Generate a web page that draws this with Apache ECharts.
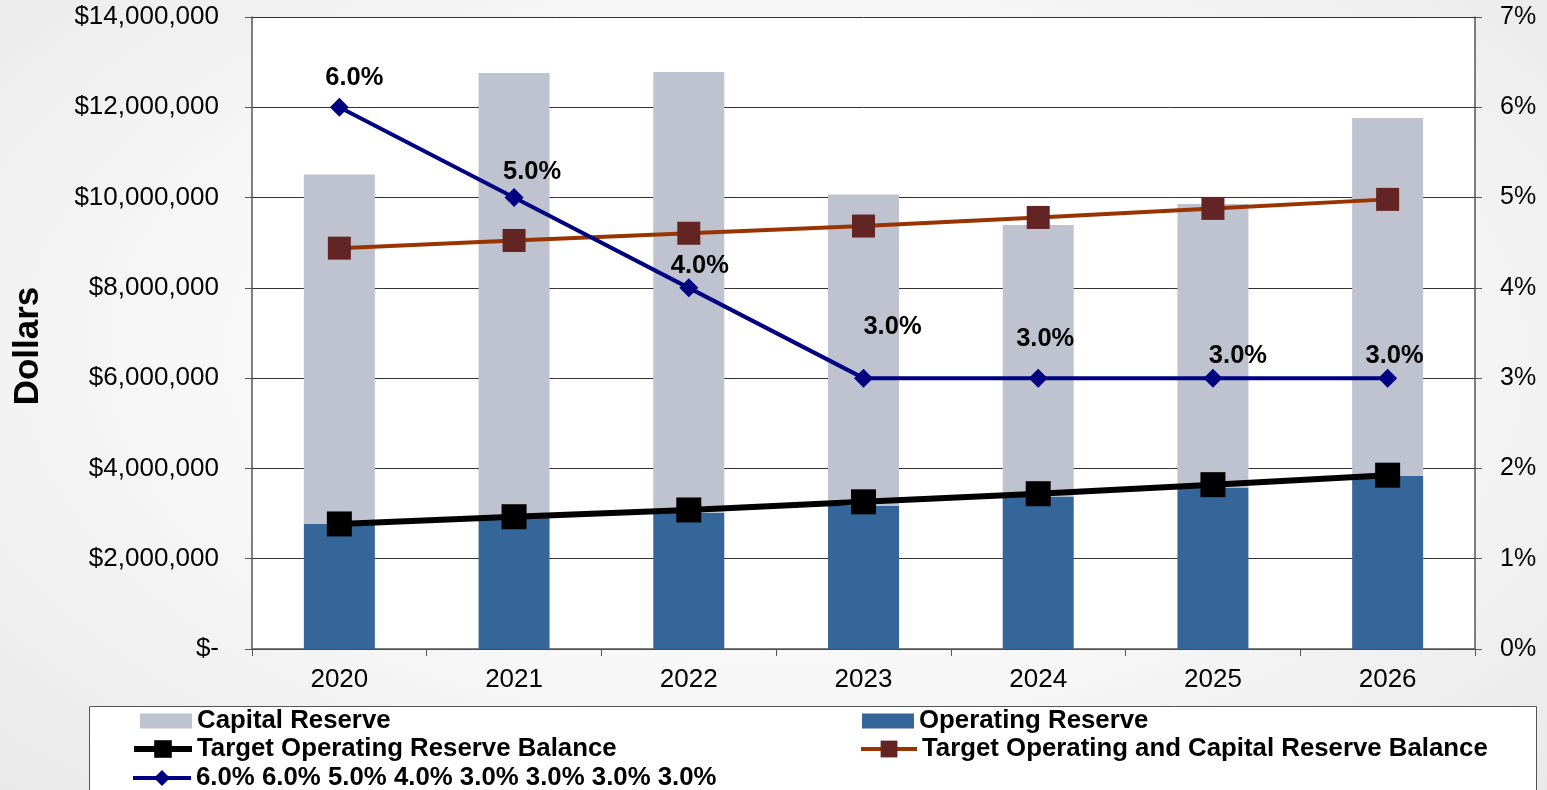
<!DOCTYPE html>
<html>
<head>
<meta charset="utf-8">
<script src="https://cdn.jsdelivr.net/npm/echarts@6/dist/echarts.min.js"></script>
<style>
html,body{margin:0;padding:0;width:1547px;height:790px;overflow:hidden;
background: radial-gradient(ellipse at 50% 45%, #ffffff 0%, #f7f7f7 55%, #e9e9e9 100%);}
#chart{width:1547px;height:790px;}
</style>
</head>
<body>
<div id="chart"></div>
<script>
// ---- data ----
const years = ['2020','2021','2022','2023','2024','2025','2026'];
const operatingReserve = [2770000, 2900000, 3020000, 3170000, 3380000, 3580000, 3830000];
const capitalReserve   = [7740000, 9860000, 9760000, 6900000, 6010000, 6280000, 7930000];
const targetOperating  = [2770000, 2930000, 3080000, 3260000, 3440000, 3640000, 3850000];
const targetOpCap      = [8880000, 9050000, 9210000, 9370000, 9560000, 9760000, 9960000];
const pctValues        = [6.0, 5.0, 4.0, 3.0, 3.0, 3.0, 3.0];
const pctSeriesName    = '6.0% 6.0% 5.0% 4.0% 3.0% 3.0% 3.0% 3.0%';
const leftTickMax = 14000000, leftTickStep = 2000000;
const rightTickMax = 7, rightTickStep = 1;

// ---- style-only: label nudges for percent labels ----
const pctLabelOffset = [[15,-2],[18,2],[11,6],[29,-24],[7,-12],[25,5],[7,5]];

const FONT = 'Liberation Sans, Arial, sans-serif';
const chart = echarts.init(document.getElementById('chart'), null, {renderer:'canvas'});

const pctData = pctValues.map((v,i)=>({
  value: v,
  label: {offset: pctLabelOffset[i]}
}));

const legendText = {fontSize: 25.8, fontWeight:'bold', color:'#000', lineHeight: 26, fontFamily: FONT};
function leg(left, top, item, extra) {
  return Object.assign({orient:'horizontal', left: left, top: top, padding: 0, itemGap: 0,
    itemWidth: 52, itemHeight: 15, textStyle: legendText, data: [item]}, extra || {});
}

const option = {
  backgroundColor: 'transparent',
  animation: false,
  textStyle: {fontFamily: FONT},
  grid: {left: 252, right: 72, top: 17, bottom: 141, show: true, backgroundColor: '#ffffff', borderWidth: 0},
  graphic: [
    {type:'rect', z: 0, shape:{x:89.5, y:706.5, width:1447, height:100},
     style:{fill:'#ffffff', stroke:'#555555', lineWidth:1}},
    {type:'text', x: 28, y: 346, rotation: Math.PI/2,
     style:{text:'Dollars', font:'bold 35px ' + FONT, fill:'#000', align:'center', verticalAlign:'middle',
            textAlign:'center', textVerticalAlign:'middle'}}
  ],
  legend: [
    leg(140, 708, {name:'Capital Reserve', icon:'rect'}),
    leg(862, 708, {name:'Operating Reserve', icon:'rect'}),
    leg(131, 736, {name:'Target Operating Reserve Balance', lineStyle:{width:6}}, {itemWidth: 58, itemHeight: 22}),
    leg(859, 736, {name:'Target Operating and Capital Reserve Balance', lineStyle:{width:4}}, {itemWidth: 56, itemHeight: 21}),
    leg(131, 765, {name: pctSeriesName, lineStyle:{width:4}}, {itemWidth: 58, itemHeight: 20})
  ],
  xAxis: {
    type:'category', data: years, boundaryGap: true,
    axisLine:{show:true, lineStyle:{color:'#555', width:1.5}},
    axisTick:{show:true, inside:false, length:7, alignWithLabel:false, lineStyle:{color:'#555'}},
    axisLabel:{fontSize: 26, color:'#000', margin: 18, fontFamily: FONT}
  },
  yAxis: [
    {type:'value', min:0, max:leftTickMax, interval:leftTickStep, position:'left',
     axisLine:{show:true, lineStyle:{color:'#555', width:1.5}},
     axisTick:{show:true, length:7, lineStyle:{color:'#555'}},
     splitLine:{show:true, lineStyle:{color:'#333', width:1}},
     axisLabel:{fontSize: 26, color:'#000', margin: 33, fontFamily: FONT,
       formatter: v => v === 0 ? '$-' : '$' + v.toLocaleString('en-US')}},
    {type:'value', min:0, max:rightTickMax, interval:rightTickStep, position:'right',
     axisLine:{show:true, lineStyle:{color:'#555', width:1.5}},
     axisTick:{show:true, length:7, lineStyle:{color:'#555'}},
     splitLine:{show:false},
     axisLabel:{fontSize: 25, color:'#000', margin: 25, fontFamily: FONT, formatter: v => v + '%'}}
  ],
  series: [
    {name:'Operating Reserve', type:'bar', stack:'res', data: operatingReserve, barWidth: 71,
     itemStyle:{color:'#346699'}, z: 2},
    {name:'Capital Reserve', type:'bar', stack:'res', data: capitalReserve, barWidth: 71,
     itemStyle:{color:'#bec3cf'}, z: 2},
    {name:'Target Operating Reserve Balance', type:'line', data: targetOperating,
     symbol:'rect', symbolSize: 25, lineStyle:{color:'#000', width:6}, itemStyle:{color:'#000'}, z: 5},
    {name:'Target Operating and Capital Reserve Balance', type:'line', data: targetOpCap,
     symbol:'rect', symbolSize: 23, lineStyle:{color:'#993300', width:4}, itemStyle:{color:'#632523'}, z: 6},
    {name: pctSeriesName, type:'line', yAxisIndex: 1, data: pctData,
     symbol:'diamond', symbolSize: 19, lineStyle:{color:'#000080', width:4}, itemStyle:{color:'#000080'}, z: 7,
     label:{show:true, position:'top', distance: 5, fontSize: 25.5, fontWeight:'bold', color:'#000', fontFamily: FONT,
            formatter: p => p.value.toFixed(1) + '%'}}
  ]
};
chart.setOption(option);
</script>
</body>
</html>
